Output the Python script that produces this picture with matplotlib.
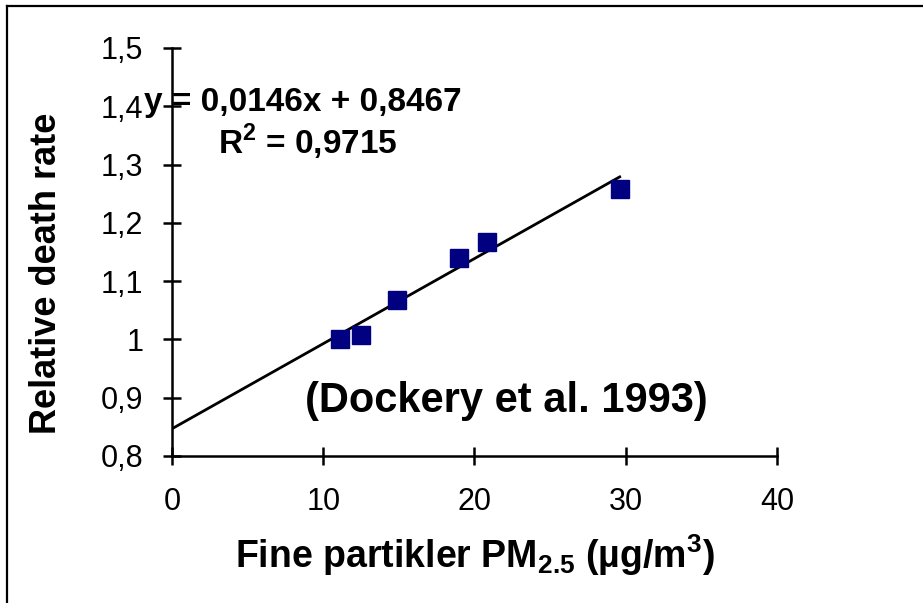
import numpy as np
import matplotlib
matplotlib.use("Agg")
from matplotlib import pyplot as plt
from matplotlib.lines import Line2D
from matplotlib.ticker import FuncFormatter

# data
pm25 = [11.1, 12.5, 14.9, 19.0, 20.8, 29.6]
death_rate = [1.00, 1.008, 1.068, 1.14, 1.167, 1.258]
slope = 0.0146
intercept = 0.8467
r_squared = 0.9715
x_ticks = [0, 10, 20, 30, 40]
y_ticks = [0.8, 0.9, 1.0, 1.1, 1.2, 1.3, 1.4, 1.5]

plt.rcParams['font.family'] = ['Liberation Sans', 'DejaVu Sans']
plt.rcParams['mathtext.fontset'] = 'custom'
plt.rcParams['mathtext.rm'] = 'Liberation Sans'
plt.rcParams['mathtext.bf'] = 'Liberation Sans:bold'


def comma(v, pos=None):
    """Decimal comma labels, 1.0 -> 1"""
    return f"{v:g}".replace('.', ',')


fig = plt.figure(figsize=(9.23, 6.03), dpi=100)
ax = fig.add_axes([0.1863, 0.2438, 0.6555, 0.6766])

# trend line over the data range
x_fit = np.array([0, max(pm25)])
ax.plot(x_fit, slope * x_fit + intercept, color='black', lw=2, zorder=2)
ax.plot(pm25, death_rate, ls='none', marker='s', ms=13.5,
        color='#000080', zorder=3)

ax.set_xlim(0, 40)
ax.set_ylim(0.8, 1.5)
ax.set_xticks(x_ticks)
ax.set_yticks(y_ticks)
ax.xaxis.set_major_formatter(FuncFormatter(comma))
ax.yaxis.set_major_formatter(FuncFormatter(comma))
ax.tick_params(direction='inout', length=13, width=1.8, labelsize=22)
ax.tick_params(axis='x', pad=16)
ax.tick_params(axis='y', pad=14)
for side in ['top', 'right']:
    ax.spines[side].set_visible(False)
for side in ['left', 'bottom']:
    ax.spines[side].set_linewidth(1.8)

fig.text(475 / 923, 1 - 555 / 603,
         'Fine partikler PM$_{\\mathbf{2.5}}$ (µg/m$^{\\mathbf{3}}$)',
         fontsize=27, fontweight='bold', ha='center', va='center')
fig.text(47 / 923, 1 - 273 / 603, 'Relative death rate', rotation=90,
         fontsize=26, fontweight='bold', ha='center', va='center')

fig.text(144 / 923, 1 - 103 / 603,
         f"y = {comma(slope)}x + {comma(intercept)}",
         fontsize=24, fontweight='bold', ha='left', va='center')
fig.text(218 / 923, 1 - 142 / 603,
         f"R$^{{\\mathbf{{2}}}}$ = {comma(r_squared)}",
         fontsize=24, fontweight='bold', ha='left', va='center')
ax.text(22.1, 0.894, '(Dockery et al. 1993)', fontsize=30,
        fontweight='bold', ha='center', va='center')

# outer frame: left and top lines only
fig.add_artist(Line2D([7 / 923, 7 / 923], [0, 1 - 6 / 603],
                      color='black', lw=1.6))
fig.add_artist(Line2D([7 / 923, 1], [1 - 6 / 603, 1 - 6 / 603],
                      color='black', lw=1.6))

fig.savefig('out.png', dpi=100)
